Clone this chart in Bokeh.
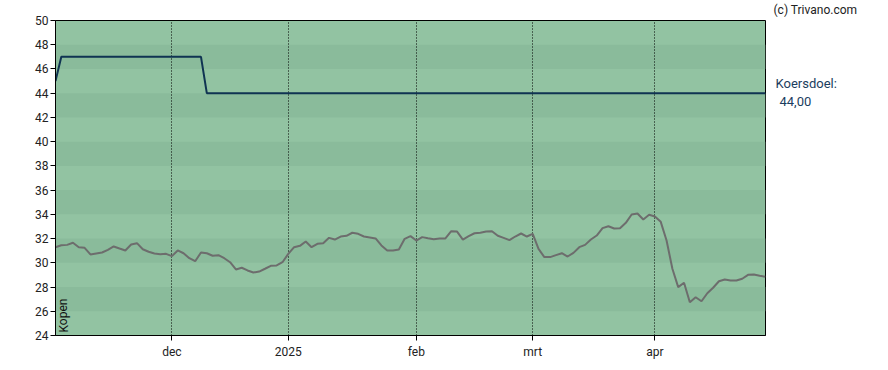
from bokeh.plotting import figure
from bokeh.models import FixedTicker, BoxAnnotation, Label, Range1d
from bokeh.layouts import row
from bokeh.embed import file_html
from bokeh.resources import INLINE

# ---- data (trading-day index based) ----
price = [31.29, 31.45, 31.48, 31.65, 31.29, 31.24, 30.69, 30.77, 30.85, 31.07,
         31.35, 31.18, 31.02, 31.51, 31.62, 31.12, 30.91, 30.77, 30.71, 30.74,
         30.55, 31.02, 30.79, 30.38, 30.13, 30.85, 30.79, 30.58, 30.63, 30.38,
         30.05, 29.45, 29.59, 29.37, 29.20, 29.28, 29.51, 29.75, 29.78, 30.05,
         30.74, 31.29, 31.40, 31.76, 31.29, 31.57, 31.62, 32.06, 31.92, 32.17,
         32.23, 32.48, 32.39, 32.17, 32.09, 32.01, 31.43, 31.02, 31.02, 31.10,
         31.98, 32.20, 31.84, 32.12, 32.03, 31.95, 32.01, 32.01, 32.61, 32.58,
         31.92, 32.20, 32.44, 32.48, 32.58, 32.61, 32.23, 32.06, 31.87, 32.17,
         32.42, 32.17, 32.39, 31.15, 30.47, 30.47, 30.63, 30.79, 30.52, 30.82,
         31.29, 31.48, 31.92, 32.25, 32.86, 33.02, 32.83, 32.86, 33.30, 33.99,
         34.07, 33.57, 33.96, 33.82, 33.38, 31.84, 29.51, 27.99, 28.35, 26.75,
         27.16, 26.83, 27.49, 27.94, 28.48, 28.62, 28.54, 28.54, 28.68, 29.01,
         29.03, 28.93, 28.85]
target = [45.0] + [47.0] * 25 + [44.0] * 97
days = list(range(len(price)))

month_index = [20, 40, 62, 82, 103]
month_labels = ["dec", "2025", "feb", "mrt", "apr"]
y_ticks = [24, 26, 28, 30, 32, 34, 36, 38, 40, 42, 44, 46, 48, 50]
target_level = 44.0
target_label = "Koersdoel:"
target_value = "44,00"
advice = "Kopen"
credit = "(c) Trivano.com"

FONT = "Roboto"
LIGHT = "#92c3a2"
DARK = "#8abb9b"

H = 362
FL, FT, FR, FB = 55, 20, 765, 335   # frame edges in page pixels
YMIN, YMAX = 24, 50
PPU = (FB - FT) / (YMAX - YMIN)     # pixels per price unit

p = figure(width=FR + 1, height=H, output_backend="svg", toolbar_location=None,
           x_range=Range1d(0, len(price) - 1), y_range=Range1d(YMIN, YMAX),
           min_border_left=FL, min_border_right=1, min_border_top=FT,
           min_border_bottom=H - FB)
p.frame_align = False
p.background_fill_color = LIGHT
p.border_fill_color = "white"
p.outline_line_color = "black"
p.outline_line_width = 1

# alternating bands
for b in range(YMIN, YMAX, 2):
    if ((b - YMIN) // 2) % 2 == 1:
        p.add_layout(BoxAnnotation(bottom=b, top=b + 2, fill_color=DARK,
                                   fill_alpha=1, line_alpha=0, level="image"))

p.ygrid.grid_line_color = None
p.xgrid.ticker = FixedTicker(ticks=month_index)
p.xgrid.grid_line_color = "black"
p.xgrid.grid_line_dash = "1 2"
p.xgrid.grid_line_width = 1

p.line(days, target, line_color="#0f3352", line_width=2)
p.line(days, price, line_color="#6d6d6d", line_width=2)

p.xaxis.ticker = FixedTicker(ticks=month_index)
p.xaxis.major_label_overrides = {i: l for i, l in zip(month_index, month_labels)}
p.yaxis.ticker = FixedTicker(ticks=y_ticks)
for ax in (p.xaxis, p.yaxis):
    ax.axis_line_color = "black"
    ax.major_tick_line_color = "black"
    ax.major_tick_out = 5
    ax.major_tick_in = 0
    ax.minor_tick_line_color = None
    ax.major_label_text_font = FONT
    ax.major_label_text_font_size = "12px"
    ax.major_label_text_color = "#222222"
p.yaxis.major_label_standoff = 2
p.xaxis.major_label_standoff = 4

p.add_layout(Label(x=8, y=3, x_units="screen", y_units="screen",
                   text=advice, angle=1.5708,
                   text_font=FONT, text_font_size="12px", text_color="#111111",
                   text_baseline="middle", text_align="left"))

# side panel for the texts right of the chart, same price scale
SW = 114
top2 = YMIN + FB / PPU
s = figure(width=SW, height=H, output_backend="svg", toolbar_location=None,
           x_range=Range1d(0, SW), y_range=Range1d(YMIN, top2),
           min_border_left=0, min_border_right=0, min_border_top=0,
           min_border_bottom=H - FB)
s.frame_align = False
s.axis.visible = False
s.grid.visible = False
s.outline_line_color = None
s.background_fill_color = "white"
s.border_fill_color = "white"

s.add_layout(Label(x=9, y=target_level + 2.5 / PPU, text=target_label,
                   text_font=FONT, text_font_size="13px", text_color="#1b3d5e",
                   text_baseline="bottom", text_align="left"))
s.add_layout(Label(x=13, y=target_level - 4 / PPU, text=target_value,
                   text_font=FONT, text_font_size="13px", text_color="#1b3d5e",
                   text_baseline="top", text_align="left"))
s.add_layout(Label(x=7, y=top2 - 2 / PPU, text=credit,
                   text_font=FONT, text_font_size="12px", text_color="#222222",
                   text_baseline="top", text_align="left"))

layout = row(p, s, spacing=0)
open("out.html", "w").write(file_html(layout, INLINE))
